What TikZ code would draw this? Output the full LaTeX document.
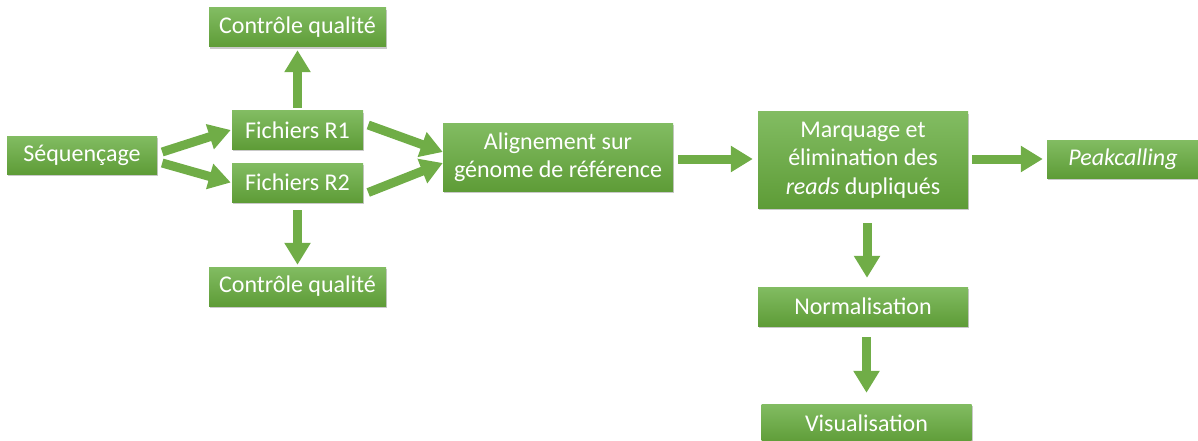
\documentclass[tikz,border=0pt]{standalone}
\usepackage{fontspec}
\setmainfont{Carlito}
\usetikzlibrary{arrows.meta,shadows}
\definecolor{boxtop}{HTML}{82BC62}
\definecolor{boxbot}{HTML}{5E9C37}
\definecolor{arrgreen}{HTML}{70AD47}
\tikzset{
  box/.style={rectangle, top color=boxtop, bottom color=boxbot, draw=none,
    text=white, align=center, inner sep=0pt,
    font=\fontsize{24}{28.5}\selectfont,
    drop shadow={shadow xshift=1.2pt, shadow yshift=-1.8pt, opacity=0.3, fill=black!70}},
  arr/.style={draw=arrgreen, line width=9pt,
    -{Triangle[width=25pt,length=22pt,fill=arrgreen]}},
}
\begin{document}
\begin{tikzpicture}[x=1pt,y=-1pt]
\useasboundingbox (0,0) rectangle (1198,441);
\node[box, minimum width=177pt, minimum height=39pt] (cq1) at (297.5,27.5) {Contrôle qualité};
\node[box, minimum width=150pt, minimum height=38pt] (seq) at (82,155) {Séquençage};
\node[box, minimum width=131pt, minimum height=38pt] (r1) at (297.5,130) {Fichiers R1};
\node[box, minimum width=131pt, minimum height=39pt] (r2) at (297.5,182.5) {Fichiers R2};
\node[box, minimum width=177pt, minimum height=39pt] (cq2) at (297.5,286.5) {Contrôle qualité};
\node[box, minimum width=230pt, minimum height=68pt] (aln) at (558,157) {Alignement sur\\génome de référence};
\node[box, minimum width=210pt, minimum height=96pt] (mrq) at (863,160) {Marquage et\\élimination des\\\textit{reads} dupliqués};
\node[box, minimum width=152pt, minimum height=38pt] (pk) at (1123,159) {\textit{Peakcalling}};
\node[box, minimum width=210pt, minimum height=39pt] (nrm) at (863,306.5) {Normalisation};
\node[box, minimum width=210pt, minimum height=39pt] (vis) at (866.5,423.5) {Visualisation};

\draw[arr] ([yshift=3pt]r1.north) -- ([yshift=-3pt]cq1.south);
\draw[arr] ([yshift=-8pt]r2.south) -- ([yshift=2pt]cq2.north);
\draw[arr] ([xshift=5pt,yshift=3pt]seq.east) -- ([xshift=-1pt]r1.west);
\draw[arr] ([xshift=5pt,yshift=-8pt]seq.east) -- ([xshift=-1pt]r2.west);
\draw[arr] ([xshift=5pt,yshift=5pt]r1.east) -- ([yshift=5pt]aln.west);
\draw[arr] ([xshift=5pt,yshift=-10pt]r2.east) -- ([yshift=-6pt]aln.west);
\draw[arr] ([xshift=5pt,yshift=-2pt]aln.east) -- ([xshift=-5pt,yshift=1pt]mrq.west);
\draw[arr] ([xshift=4pt,yshift=1pt]mrq.east) -- ([xshift=-4pt]pk.west);
\draw[arr] ([xshift=4pt,yshift=-15pt]mrq.south) -- ([xshift=4pt,yshift=9pt]nrm.north);
\draw[arr] ([xshift=3.5pt,yshift=-11pt]nrm.south) -- ([yshift=11pt]vis.north);
\end{tikzpicture}
\end{document}
